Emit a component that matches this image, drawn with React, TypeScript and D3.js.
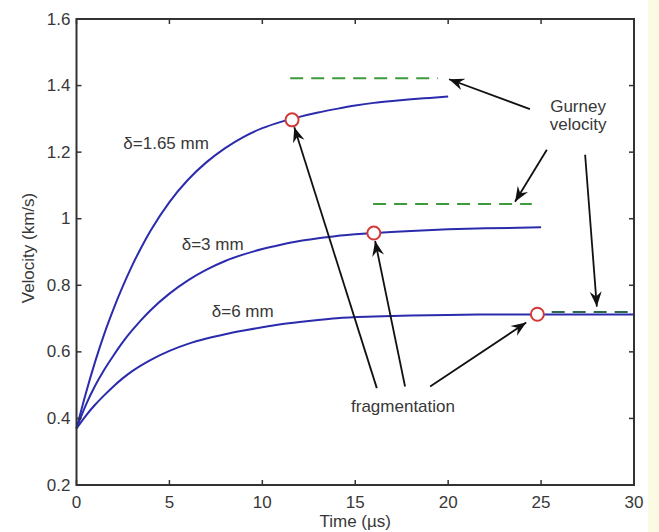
import React from 'react';
import * as d3 from 'd3';

// --- data ---
const xTicks = [0, 5, 10, 15, 20, 25, 30];
const yTicks = [0.2, 0.4, 0.6, 0.8, 1.0, 1.2, 1.4, 1.6];
const yTickLabels = ['0.2', '0.4', '0.6', '0.8', '1', '1.2', '1.4', '1.6'];

// velocity (km/s) vs time (us), delta = 1.65 mm
const curve165: [number, number][] = [
  [0, 0.37], [0.5, 0.475], [1, 0.57], [1.5, 0.655], [2, 0.73], [2.5, 0.798], [3, 0.86],
  [3.5, 0.915], [4, 0.965], [5, 1.05], [6, 1.117], [7, 1.17], [8, 1.212], [9, 1.246],
  [10, 1.272], [11, 1.291], [12, 1.306], [13, 1.319], [14, 1.33], [15, 1.34],
  [16, 1.348], [17, 1.354], [18, 1.359], [19, 1.363], [20, 1.367],
];
// delta = 3 mm
const curve3: [number, number][] = [
  [0, 0.37], [0.5, 0.44], [1, 0.498], [1.5, 0.547], [2, 0.59], [2.5, 0.63], [3, 0.665],
  [3.5, 0.697], [4, 0.726], [5, 0.775], [6, 0.815], [7, 0.847], [8, 0.873], [9, 0.893],
  [10, 0.909], [11, 0.922], [12, 0.933], [13, 0.941], [14, 0.948], [15, 0.953], [16, 0.957],
  [18, 0.963], [20, 0.968], [22, 0.971], [25, 0.974],
];
// delta = 6 mm
const curve6: [number, number][] = [
  [0, 0.37], [0.5, 0.408], [1, 0.441], [1.5, 0.47], [2, 0.497], [2.5, 0.521], [3, 0.542],
  [4, 0.576], [5, 0.603], [6, 0.624], [7, 0.64], [8, 0.653], [9, 0.664], [10, 0.674],
  [11, 0.683], [12, 0.69], [13, 0.696], [14, 0.701], [16, 0.706], [18, 0.709], [20, 0.711],
  [22, 0.712], [25, 0.712], [30, 0.712],
];
const curves = [curve165, curve3, curve6];

// Gurney velocity levels [tStart, tEnd, v]
const gurney: [number, number, number][] = [
  [11.5, 19.45, 1.422],
  [15.96, 24.5, 1.044],
  [25.57, 30, 0.72],
];

// fragmentation points
const fragments: [number, number][] = [
  [11.6, 1.297],
  [16.0, 0.957],
  [24.8, 0.713],
];

// curve labels [text, t, v]
const curveLabels: [string, number, number][] = [
  ['δ=1.65 mm', 2.52, 1.227],
  ['δ=3 mm', 5.66, 0.924],
  ['δ=6 mm', 7.28, 0.721],
];

// annotation arrows [t0, v0, t1, v1]
const arrows: [number, number, number, number][] = [
  [24.4, 1.329, 20.05, 1.419],
  [25.31, 1.207, 23.6, 1.051],
  [27.37, 1.192, 28.0, 0.736],
  [16.16, 0.491, 11.72, 1.275],
  [17.68, 0.496, 16.07, 0.933],
  [19.03, 0.496, 24.2, 0.688],
];

const W = 659;
const H = 532;
const margin = { top: 19, right: 25, bottom: 47, left: 76.5 };

const App = () => {
  const x = d3.scaleLinear().domain([0, 30]).range([margin.left, W - margin.right]);
  const y = d3.scaleLinear().domain([0.2, 1.6]).range([H - margin.bottom, margin.top]);

  const line = d3
    .line<[number, number]>()
    .x((d) => x(d[0]))
    .y((d) => y(d[1]))
    .curve(d3.curveMonotoneX);

  const font = 'Liberation Sans, Arial, sans-serif';
  const fs = 17;
  const textCol = '#383838';
  const x0 = x(0), x1 = x(30), y0 = y(0.2), y1 = y(1.6);

  return (
    <div style={{ position: 'fixed', left: 0, top: 0 }}>
      <svg width={W} height={H} style={{ display: 'block', background: '#fff' }}>
        <defs>
          <marker id="head" viewBox="-15 -7 16 14" refX="0" refY="0" markerWidth="16" markerHeight="14"
            markerUnits="userSpaceOnUse" orient="auto">
            <path d="M0,0 L-15,-6 L-10,0 L-15,6 Z" fill="#111" />
          </marker>
        </defs>
        <rect x={648} y={0} width={W - 648} height={H} fill="#fbfbe4" />

        {/* curves */}
        {curves.map((c, i) => (
          <path key={i} d={line(c) || ''} fill="none" stroke="#2b2bad" strokeWidth={2} />
        ))}

        {/* gurney dashed lines */}
        {gurney.map((g, i) => (
          <line key={i} x1={x(g[0])} x2={x(g[1])} y1={y(g[2])} y2={y(g[2])}
            stroke={i === 2 ? '#2e6a4a' : '#3d9a3d'} strokeWidth={2} strokeDasharray="13 8" />
        ))}

        {/* arrows */}
        {arrows.map((a, i) => (
          <line key={i} x1={x(a[0])} y1={y(a[1])} x2={x(a[2])} y2={y(a[3])}
            stroke="#111" strokeWidth={1.8} markerEnd="url(#head)" />
        ))}

        {/* fragmentation circles */}
        {fragments.map((f, i) => (
          <circle key={i} cx={x(f[0])} cy={y(f[1])} r={6.5} fill="#fff" stroke="#d23a3a" strokeWidth={2} />
        ))}

        {/* axes box */}
        <rect x={x0} y={y1} width={x1 - x0} height={y0 - y1} fill="none" stroke="#333" strokeWidth={2} />
        {xTicks.map((t) => (
          <g key={'xt' + t}>
            <line x1={x(t)} x2={x(t)} y1={y0} y2={y0 - 5} stroke="#333" strokeWidth={1.5} />
            <line x1={x(t)} x2={x(t)} y1={y1} y2={y1 + 5} stroke="#333" strokeWidth={1.5} />
            <text x={x(t)} y={y0 + 17} textAnchor="middle" dominantBaseline="central"
              fontFamily={font} fontSize={fs} fill={textCol}>{t}</text>
          </g>
        ))}
        {yTicks.map((t, i) => (
          <g key={'yt' + t}>
            <line x1={x0} x2={x0 + 5} y1={y(t)} y2={y(t)} stroke="#333" strokeWidth={1.5} />
            <line x1={x1} x2={x1 - 5} y1={y(t)} y2={y(t)} stroke="#333" strokeWidth={1.5} />
            <text x={x0 - 6} y={y(t)} textAnchor="end" dominantBaseline="central"
              fontFamily={font} fontSize={fs} fill={textCol}>{yTickLabels[i]}</text>
          </g>
        ))}

        {/* axis titles */}
        <text x={(x0 + x1) / 2} y={521.5} textAnchor="middle" dominantBaseline="central"
          fontFamily={font} fontSize={fs} fill={textCol}>Time (µs)</text>
        <text transform={`translate(28,${(y0 + y1) / 2 - 4}) rotate(-90)`} textAnchor="middle"
          dominantBaseline="central" fontFamily={font} fontSize={fs} fill={textCol}>Velocity (km/s)</text>

        {/* curve labels */}
        {curveLabels.map((l, i) => (
          <text key={i} x={x(l[1])} y={y(l[2])} dominantBaseline="central"
            fontFamily={font} fontSize={fs} fill={textCol}>{l[0]}</text>
        ))}

        {/* annotations */}
        <text x={x(26.99)} y={y(1.337)} textAnchor="middle" dominantBaseline="central"
          fontFamily={font} fontSize={fs} fill={textCol}>Gurney</text>
        <text x={x(26.99)} y={y(1.282)} textAnchor="middle" dominantBaseline="central"
          fontFamily={font} fontSize={fs} fill={textCol}>velocity</text>
        <text x={x(17.57)} y={y(0.436)} textAnchor="middle" dominantBaseline="central"
          fontFamily={font} fontSize={fs} fill={textCol}>fragmentation</text>
      </svg>
    </div>
  );
};

export default App;
